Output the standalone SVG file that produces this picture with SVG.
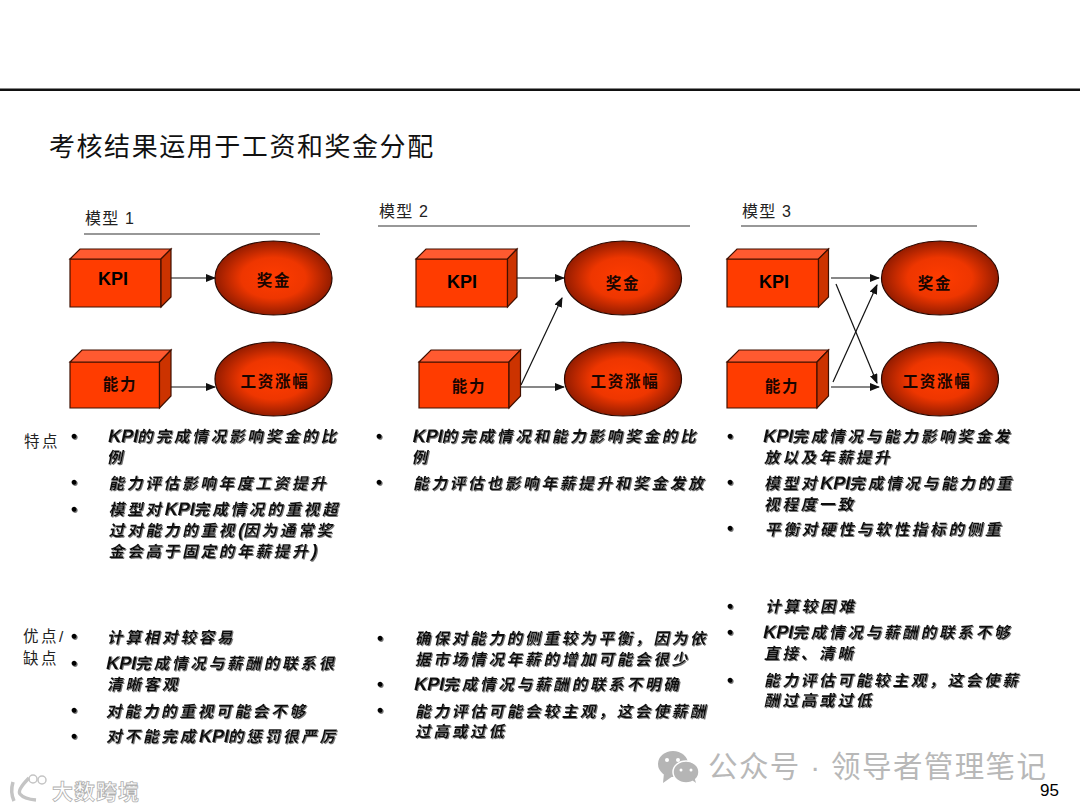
<svg xmlns="http://www.w3.org/2000/svg" width="1080" height="810" viewBox="0 0 1080 810">
<style>
text{font-family:"Liberation Sans","Noto Sans CJK SC",sans-serif;fill:#000}
.title{font-size:26px;letter-spacing:1.55px;fill:#111}
.h{font-size:16px;letter-spacing:1.2px;fill:#222}
.lab{font-size:15.5px;letter-spacing:2.5px;fill:#222}
.b{font-size:15.5px;font-weight:700;letter-spacing:2.85px;fill:#111;transform-box:fill-box;transform-origin:0 100%;transform:skewX(-12deg)}
.k{letter-spacing:0;font-size:18px}
.dot{font-size:18px;font-weight:700}
.n{font-size:18px;font-weight:700;text-anchor:middle}
.nc{font-size:15.5px;font-weight:700;letter-spacing:1.8px;text-anchor:middle;fill:#1a0500}
.f{fill:#ff3c00;stroke:#401000;stroke-width:1.2}
.t{fill:#ff5a30;stroke:#401000;stroke-width:1.2}
.s{fill:#cc3300;stroke:#401000;stroke-width:1.2}
.e{fill:url(#rg);stroke:#2a0800;stroke-width:1.2}
.rule{stroke:#333;stroke-width:1.2}
.c{stroke:#111;stroke-width:1.2;fill:none;marker-end:url(#ah)}
.wm{font-size:29.5px;letter-spacing:1.4px;fill:#b8b8b8;font-weight:400}
.wm2{font-size:21px;fill:#fff;stroke:#b0b0b0;stroke-width:.8;font-weight:700}
</style>
<defs>
<radialGradient id="rg" cx="50%" cy="50%" r="50%"><stop offset="0" stop-color="#ff3c00"/><stop offset=".55" stop-color="#ee3600"/><stop offset="1" stop-color="#941c00"/></radialGradient>
<marker id="ah" markerWidth="10" markerHeight="8" refX="9" refY="4" orient="auto" markerUnits="userSpaceOnUse"><path d="M0 0L10 4L0 8Z" fill="#111"/></marker>
<filter id="sh" x="-5%" y="-5%" width="110%" height="110%"><feDropShadow dx="1" dy="1" stdDeviation=".5" flood-color="#777"/></filter>
</defs>
<rect width="1080" height="810" fill="#fff"/>
<rect x="0" y="88.500" width="1080" height="2.500" fill="#111"/>
<text class="title" x="49" y="156">考核结果运用于工资和奖金分配</text>

<g id="heads">
<text class="h" x="85" y="224">模型 <tspan letter-spacing="0">1</tspan></text>
<line class="rule" x1="84" y1="234" x2="320" y2="234"/>
<text class="h" x="379" y="217">模型 <tspan letter-spacing="0">2</tspan></text>
<line class="rule" x1="378" y1="226" x2="690" y2="226"/>
<text class="h" x="742" y="217">模型 <tspan letter-spacing="0">3</tspan></text>
<line class="rule" x1="741" y1="226" x2="977" y2="226"/>
</g>

<g id="connectors">
<line class="c" x1="171" y1="278" x2="215" y2="278"/>
<line class="c" x1="171" y1="387" x2="215" y2="387"/>
<line class="c" x1="517" y1="278" x2="564" y2="278"/>
<line class="c" x1="521" y1="387" x2="564" y2="387"/>
<line class="c" x1="521" y1="385" x2="562" y2="298"/>
<line class="c" x1="831" y1="278" x2="879" y2="278"/>
<line class="c" x1="831" y1="387" x2="879" y2="387"/>
<line class="c" x1="833" y1="382" x2="877" y2="285"/>
<line class="c" x1="836" y1="284" x2="877" y2="383"/>
</g>

<g id="m1-kpi"><path class="f" d="M70 259H161V307H70Z"/><path class="t" d="M70 259L80 249H171L161 259Z"/><path class="s" d="M161 259L171 249V297L161 307Z"/><text class="n" x="113" y="285">KPI</text></g>
<g id="m1-ability"><path class="f" d="M70 362H159.500V408H70Z"/><path class="t" d="M70 362L82 350H171L159.500 362Z"/><path class="s" d="M159.500 362L171 350V396L159.500 408Z"/><text class="nc" x="120" y="390">能力</text></g>
<g id="m1-bonus"><ellipse class="e" cx="273.500" cy="278" rx="58.500" ry="37"/><text class="nc" x="274" y="286">奖金</text></g>
<g id="m1-raise"><ellipse class="e" cx="273.500" cy="379" rx="58.500" ry="37"/><text class="nc" x="275" y="387">工资涨幅</text></g>

<g id="m2-kpi"><path class="f" d="M416 259H507.500V307H416Z"/><path class="t" d="M416 259L426 249H517L507.500 259Z"/><path class="s" d="M507.500 259L517 249V297L507.500 307Z"/><text class="n" x="462" y="288">KPI</text></g>
<g id="m2-ability"><path class="f" d="M419 362H509V408H419Z"/><path class="t" d="M419 362L431 350H520.500L509 362Z"/><path class="s" d="M509 362L520.500 350V396L509 408Z"/><text class="nc" x="469" y="392">能力</text></g>
<g id="m2-bonus"><ellipse class="e" cx="623" cy="278" rx="58.500" ry="37"/><text class="nc" x="623" y="289">奖金</text></g>
<g id="m2-raise"><ellipse class="e" cx="623" cy="379" rx="58.500" ry="37"/><text class="nc" x="625" y="387">工资涨幅</text></g>

<g id="m3-kpi"><path class="f" d="M727 259H818.500V307H727Z"/><path class="t" d="M727 259L737 249H828.500L818.500 259Z"/><path class="s" d="M818.500 259L828.500 249V297L818.500 307Z"/><text class="n" x="774" y="288">KPI</text></g>
<g id="m3-ability"><path class="f" d="M727 362H817V408H727Z"/><path class="t" d="M727 362L739 350H828.500L817 362Z"/><path class="s" d="M817 362L828.500 350V396L817 408Z"/><text class="nc" x="782" y="392">能力</text></g>
<g id="m3-bonus"><ellipse class="e" cx="940" cy="278" rx="58.500" ry="37"/><text class="nc" x="935" y="289">奖金</text></g>
<g id="m3-raise"><ellipse class="e" cx="940" cy="379" rx="58.500" ry="37"/><text class="nc" x="937" y="387">工资涨幅</text></g>

<g id="row-labels">
<text class="lab" x="24" y="447">特点</text>
<text class="lab" x="23" y="642">优点/</text>
<text class="lab" x="23" y="664">缺点</text>
</g>

<g id="col1" filter="url(#sh)">
<text class="dot" x="71" y="442">•</text><text class="dot" x="71" y="488">•</text><text class="dot" x="71" y="515">•</text>
<text class="dot" x="71" y="642">•</text><text class="dot" x="71" y="669">•</text><text class="dot" x="71" y="716">•</text><text class="dot" x="71" y="742">•</text>
<text class="b" x="106.500" y="442"><tspan class="k">KPI</tspan>的完成情况影响奖金的比</text>
<text class="b" x="106.500" y="463">例</text>
<text class="b" x="108" y="489">能力评估影响年度工资提升</text>
<text class="b" x="108" y="515">模型对<tspan class="k">KPI</tspan>完成情况的重视超</text>
<text class="b" x="108" y="536">过对能力的重视<tspan class="k">(</tspan>因为通常奖</text>
<text class="b" x="108" y="557">金会高于固定的年薪提升<tspan class="k">)</tspan></text>
<text class="b" x="106.500" y="643">计算相对较容易</text>
<text class="b" x="104.500" y="669"><tspan class="k">KPI</tspan>完成情况与薪酬的联系很</text>
<text class="b" x="106.500" y="690">清晰客观</text>
<text class="b" x="105.500" y="717">对能力的重视可能会不够</text>
<text class="b" x="105.500" y="742">对不能完成<tspan class="k">KPI</tspan>的惩罚很严厉</text>
</g>

<g id="col2" filter="url(#sh)">
<text class="dot" x="376" y="442">•</text><text class="dot" x="376" y="488">•</text>
<text class="dot" x="377" y="644">•</text><text class="dot" x="377" y="690">•</text><text class="dot" x="377" y="716">•</text>
<text class="b" x="411" y="442"><tspan class="k">KPI</tspan>的完成情况和能力影响奖金的比</text>
<text class="b" x="411" y="463">例</text>
<text class="b" x="412.500" y="489">能力评估也影响年薪提升和奖金发放</text>
<text class="b" x="414.500" y="644">确保对能力的侧重较为平衡，因为依</text>
<text class="b" x="414.500" y="665">据市场情况年薪的增加可能会很少</text>
<text class="b" x="412.500" y="690"><tspan class="k">KPI</tspan>完成情况与薪酬的联系不明确</text>
<text class="b" x="414.500" y="717">能力评估可能会较主观，这会使薪酬</text>
<text class="b" x="414.500" y="737">过高或过低</text>
</g>

<g id="col3" filter="url(#sh)">
<text class="dot" x="727" y="442">•</text><text class="dot" x="727" y="488">•</text><text class="dot" x="727" y="534">•</text>
<text class="dot" x="727" y="612">•</text><text class="dot" x="727" y="638">•</text><text class="dot" x="727" y="686">•</text>
<text class="b" x="761.500" y="442"><tspan class="k">KPI</tspan>完成情况与能力影响奖金发</text>
<text class="b" x="763.500" y="463">放以及年薪提升</text>
<text class="b" x="763.500" y="489">模型对<tspan class="k">KPI</tspan>完成情况与能力的重</text>
<text class="b" x="763.500" y="510">视程度一致</text>
<text class="b" x="764.500" y="535">平衡对硬性与软性指标的侧重</text>
<text class="b" x="764.500" y="612">计算较困难</text>
<text class="b" x="761.500" y="638"><tspan class="k">KPI</tspan>完成情况与薪酬的联系不够</text>
<text class="b" x="763.500" y="659">直接、清晰</text>
<text class="b" x="763.500" y="686">能力评估可能较主观，这会使薪</text>
<text class="b" x="763.500" y="706">酬过高或过低</text>
</g>

<g id="watermark-left">
<path d="M13 782Q10 792 14 801M29 778Q17 790 20 794Q24 799 36 800" fill="none" stroke="#c4c4c4" stroke-width="3.500"/>
<circle cx="33" cy="779" r="4" fill="none" stroke="#c4c4c4" stroke-width="1.500"/>
<circle cx="42" cy="780" r="4" fill="none" stroke="#c4c4c4" stroke-width="1.500"/>
<text class="wm2" x="52" y="799" letter-spacing="1">大数跨境</text>
</g>
<g id="watermark-right">
<ellipse cx="673" cy="764" rx="15" ry="13" fill="#b5b5b5"/>
<path d="M664 773L663 783L673 776Z" fill="#b5b5b5"/>
<ellipse cx="686" cy="772" rx="13" ry="11" fill="#b5b5b5" stroke="#fff" stroke-width="1.500"/>
<path d="M692 780L696 783L694 776Z" fill="#b5b5b5"/>
<circle cx="667" cy="760" r="2" fill="#fff"/><circle cx="678" cy="760" r="2" fill="#fff"/>
<circle cx="681" cy="770" r="1.500" fill="#fff"/><circle cx="691" cy="770" r="1.500" fill="#fff"/>
<text class="wm" x="708" y="777">公众号 · 领导者管理笔记</text>
</g>
<text x="1040" y="796" font-size="17" id="page">95</text>
</svg>
